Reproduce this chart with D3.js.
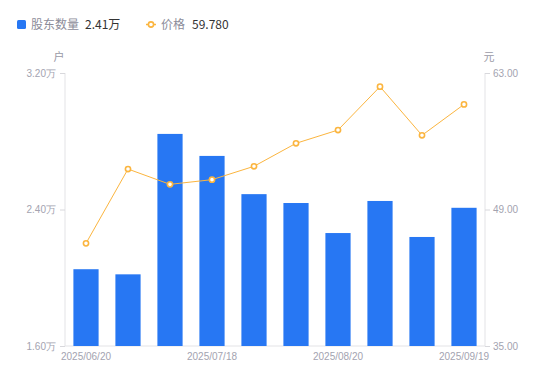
<!DOCTYPE html>
<html><head><meta charset="utf-8">
<script src="https://cdn.jsdelivr.net/npm/d3@7/dist/d3.min.js"></script>
<style>body{margin:0;background:#fff;font-family:"Noto Sans CJK SC","Liberation Sans",Arial,sans-serif;}</style>
</head><body><svg id="c" width="550" height="381"></svg>
<script>
const dates = ["2025/06/20","2025/06/30","2025/07/10","2025/07/18","2025/07/31","2025/08/10","2025/08/20","2025/08/31","2025/09/10","2025/09/19"];
const holders = [2.05,2.02,2.843,2.714,2.49,2.438,2.262,2.45,2.239,2.41];
const prices = [45.53,53.15,51.58,52.06,53.43,55.79,57.15,61.6,56.61,59.78];
const leftTicks = [1.6,2.4,3.2];
const rightTicks = [35,49,63];
const shownDates = ["2025/06/20","2025/07/18","2025/08/20","2025/09/19"];

const svg = d3.select("#c");
const L = 65, R = 485, T = 73, B = 346;
const font = '"Liberation Sans",Arial,sans-serif';
const x = d3.scaleBand().domain(dates).range([L,R]).paddingInner(0.4).paddingOuter(0.2);
const yL = d3.scaleLinear().domain([1.6,3.2]).range([B,T]);
const yR = d3.scaleLinear().domain([35,63]).range([B,T]);
const xc = d => x(d) + x.bandwidth()/2;

// axes
const gl = svg.append("g").attr("transform",`translate(${L},0)`)
  .call(d3.axisLeft(yL).tickValues(leftTicks).tickSize(5).tickPadding(4).tickFormat(d=>d3.format(".2f")(d)+"万"));
const gr = svg.append("g").attr("transform",`translate(${R},0)`)
  .call(d3.axisRight(yR).tickValues(rightTicks).tickSize(5).tickPadding(3).tickFormat(d3.format(".2f")));
[gl,gr].forEach(g=>{
  g.select(".domain").attr("stroke","#e3e3e6").attr("d",`M0,${T}V${B}`);
  g.selectAll(".tick line").attr("stroke","#d8d8dc");
  g.selectAll("text").attr("fill","#a3a3b0").style("font-family",font).style("font-size","10px");
});
svg.append("line").attr("x1",L).attr("x2",R).attr("y1",B).attr("y2",B).attr("stroke","#e3e3e6");

const gx = svg.append("g").attr("transform",`translate(0,${B})`)
  .call(d3.axisBottom(x).tickValues(shownDates).tickSize(0).tickPadding(7));
gx.select(".domain").remove();
gx.selectAll("text").attr("fill","#a3a3b0").style("font-family",font).style("font-size","10px");

// unit labels
svg.append("text").attr("x",59).attr("y",61).attr("text-anchor","middle").attr("fill","#9a9aa6").style("font-size","11px").text("户");
svg.append("text").attr("x",489).attr("y",61).attr("text-anchor","middle").attr("fill","#9a9aa6").style("font-size","11px").text("元");

// bars
svg.append("g").selectAll("rect").data(dates).join("rect")
  .attr("x",d=>x(d)).attr("width",x.bandwidth())
  .attr("y",(d,i)=>yL(holders[i])).attr("height",(d,i)=>B-yL(holders[i]))
  .attr("fill","#2777f3");

// line
const line = d3.line().x((d,i)=>xc(dates[i])).y(d=>yR(d));
svg.append("path").datum(prices).attr("d",line).attr("fill","none").attr("stroke","#fbb53f").attr("stroke-width",1);
svg.append("g").selectAll("circle").data(prices).join("circle")
  .attr("cx",(d,i)=>xc(dates[i])).attr("cy",d=>yR(d)).attr("r",2.6)
  .attr("fill","#fff").attr("stroke","#fbb53f").attr("stroke-width",1.6);

// legend
const lg = svg.append("g");
lg.append("rect").attr("x",17).attr("y",20).attr("width",9).attr("height",9).attr("rx",1.5).attr("fill","#2777f3");
lg.append("text").attr("x",31).attr("y",29).attr("fill","#8c8c99").style("font-size","12px").text("股东数量");
lg.append("text").attr("x",85).attr("y",29).attr("fill","#333").style("font-size","12px").text(d3.format(".2f")(holders[holders.length-1])+"万");
lg.append("line").attr("x1",146).attr("x2",156).attr("y1",24.5).attr("y2",24.5).attr("stroke","#fbb53f").attr("stroke-width",1.5);
lg.append("circle").attr("cx",151).attr("cy",24.5).attr("r",2.6).attr("fill","#fff").attr("stroke","#fbb53f").attr("stroke-width",1.6);
lg.append("text").attr("x",161).attr("y",29).attr("fill","#8c8c99").style("font-size","12px").text("价格");
lg.append("text").attr("x",192).attr("y",29).attr("fill","#333").style("font-size","12px").text(d3.format(".3f")(prices[prices.length-1]));
</script></body></html>
